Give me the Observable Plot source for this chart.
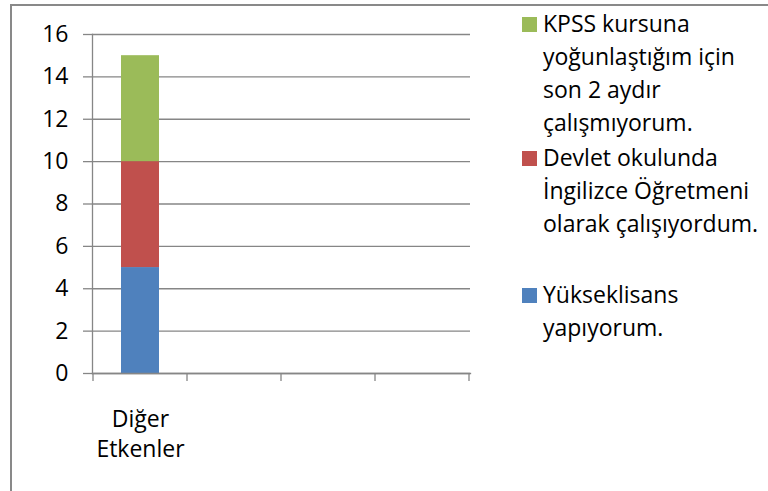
<!DOCTYPE html>
<html>
<head>
<meta charset="utf-8">
<script src="https://cdn.jsdelivr.net/npm/d3@7"></script>
<script src="https://cdn.jsdelivr.net/npm/@observablehq/plot@0.6"></script>
<style>
  html, body { margin: 0; padding: 0; background: #fff; overflow: hidden; }
  #wrap { position: relative; width: 768px; height: 491px; overflow: hidden; font-family: "Open Sans", sans-serif; }
  #border { position: absolute; left: 10px; top: 4px; width: 900px; height: 700px; border: 2px solid #898989; box-sizing: border-box; }
  #chart { position: absolute; left: 0; top: 0; }
  .leg { position: absolute; left: 522px; font-size: 23px; line-height: 33px; color: #000; }
  .leg .sw { position: absolute; left: 0; top: 10px; width: 15px; height: 15px; }
  .leg .tx { margin-left: 21px; white-space: pre; }
</style>
</head>
<body>
<div id="wrap">
  <div id="border"></div>
  <div id="chart"></div>
  <div id="legend"></div>
</div>
<script>
const categories = ["Diğer Etkenler", "", " ", "  "];
const seriesNames = ["Yükseklisans yapıyorum.", "Devlet okulunda İngilizce Öğretmeni olarak çalışıyordum.", "KPSS kursuna yoğunlaştığım için son 2 aydır çalışmıyorum."];
const seriesValues = [5, 5, 5];
const seriesColors = ["#4F81BD", "#C0504D", "#9BBB59"];
const yTicks = [0, 2, 4, 6, 8, 10, 12, 14, 16];
const legendLines = [
  ["KPSS kursuna", "yoğunlaştığım için", "son 2 aydır", "çalışmıyorum."],
  ["Devlet okulunda", "İngilizce Öğretmeni", "olarak çalışıyordum."],
  ["Yükseklisans", "yapıyorum."]
];

const data = seriesNames.map((s, i) => ({cat: categories[0], series: s, value: seriesValues[i], order: i}));
const gray = "#868686";

const plot = Plot.plot({
  width: 768,
  height: 491,
  marginLeft: 92,
  marginRight: 298,
  marginTop: 34,
  marginBottom: 118,
  style: {fontFamily: "Open Sans, sans-serif", fontSize: "23px", color: "#000", background: "transparent"},
  x: {domain: categories, padding: 0, axis: null},
  y: {domain: [0, 16], axis: null},
  color: {domain: seriesNames, range: seriesColors},
  marks: [
    Plot.gridY(yTicks, {stroke: gray, strokeOpacity: 1, strokeWidth: 1.3}),
    Plot.axisY(yTicks, {tickSize: 9, tickPadding: 15, stroke: gray, strokeOpacity: 1, strokeWidth: 1.3, fill: "#000", fontSize: 23, label: null}),
    Plot.barY(data, {x: "cat", y: "value", fill: "series", order: "order", insetLeft: 28, insetRight: 28}),
    Plot.frame({anchor: "left", stroke: gray, strokeWidth: 1.3}),
    Plot.frame({anchor: "bottom", stroke: gray, strokeWidth: 1.3}),
    Plot.text(categories, {x: d => d, text: d => d.trim() ? d.replace(" ", "\n") : "", frameAnchor: "bottom", lineAnchor: "top", dy: 32, lineHeight: 1.32, fontSize: 23, fill: "#000"})
  ]
});
document.getElementById("chart").appendChild(plot);

// category boundary ticks from the band scale
const xs = plot.scale("x");
const ys = plot.scale("y");
const bounds = categories.map(c => xs.apply(c)).concat([xs.apply(categories[categories.length - 1]) + xs.bandwidth]);
const y0 = ys.apply(0);
d3.select(plot).append("g").selectAll("line").data(bounds).join("line")
  .attr("x1", d => d).attr("x2", d => d).attr("y1", y0).attr("y2", y0 + 8)
  .attr("stroke", gray).attr("stroke-width", 1.3);

// legend
const legTops = [7, 141, 278];
const legColorIdx = [2, 1, 0];
const leg = d3.select("#legend");
legendLines.forEach((lines, i) => {
  const item = leg.append("div").attr("class", "leg").style("top", legTops[i] + "px");
  item.append("div").attr("class", "sw").style("background", seriesColors[legColorIdx[i]]);
  item.append("div").attr("class", "tx").text(lines.join("\n"));
});
</script>
</body>
</html>
